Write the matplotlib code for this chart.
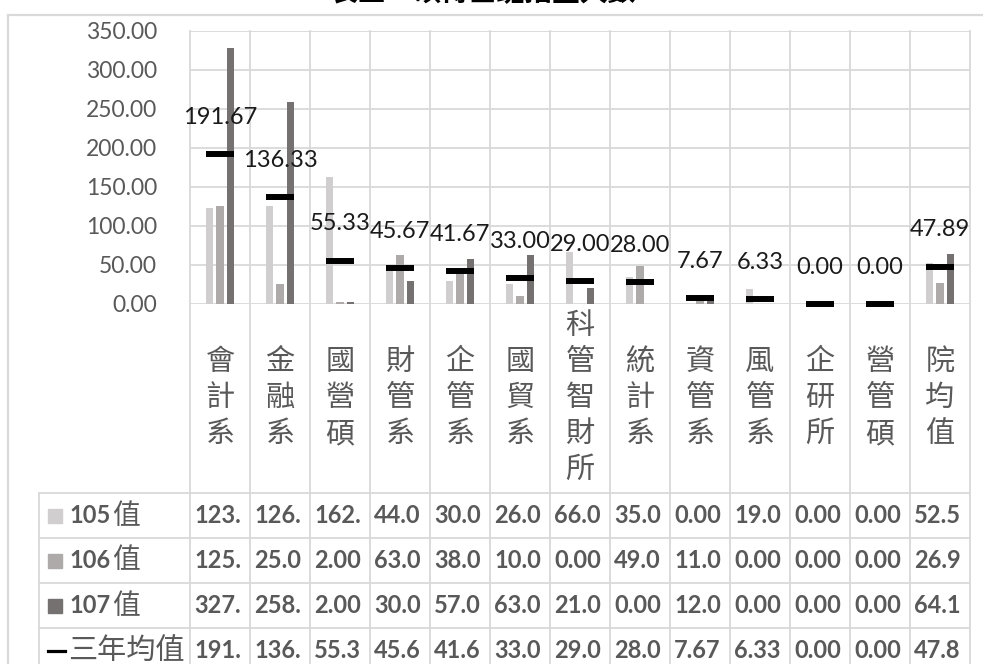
import numpy as np
import matplotlib.pyplot as plt
from matplotlib.lines import Line2D
from matplotlib.patches import Rectangle
from matplotlib.transforms import blended_transform_factory, offset_copy

plt.rcParams['font.family'] = ['Lato', 'Noto Sans CJK TC', 'DejaVu Sans']

# data
depts = ['會計系', '金融系', '國營碩', '財管系', '企管系', '國貿系', '科管智財所',
         '統計系', '資管系', '風管系', '企研所', '營管碩', '院均值']
v105 = [123, 126, 162, 44, 30, 26, 66, 35, 0, 19, 0, 0, 52.58]
v106 = [125, 25, 2, 63, 38, 10, 0, 49, 11, 0, 0, 0, 26.92]
v107 = [327, 258, 2, 30, 57, 63, 21, 0, 12, 0, 0, 0, 64.17]
avg3 = [191.67, 136.33, 55.33, 45.67, 41.67, 33.00, 29.00, 28.00, 7.67, 6.33, 0.00, 0.00, 47.89]
series_names = ['105值', '106值', '107值', '三年均值']
series_colors = ['#D0CECE', '#AEAAAA', '#767171', 'black']
yticks = [0, 50, 100, 150, 200, 250, 300, 350]
title = '表三　碩博士班招生人數'

W, H = 983, 664
def fx(px):
    return px / W
def fy(px):
    return 1 - px / H

grid_c = '#D9D9D9'
text_c = '#595959'

fig = plt.figure(figsize=(W / 100, H / 100), dpi=100)
ax = fig.add_axes([fx(190), fy(304), fx(970) - fx(190), fy(30.5) - fy(304)])

x = np.arange(len(depts))
bw = 0.117
ax.bar(x - 0.175, v105, bw, color=series_colors[0], zorder=2)
ax.bar(x, v106, bw, color=series_colors[1], zorder=2)
ax.bar(x + 0.175, v107, bw, color=series_colors[2], zorder=2)
ax.plot(x, avg3, ls='none', marker='_', ms=19.5, mew=4.3, color='black',
        clip_on=False, zorder=5)

for xi, v in zip(x, avg3):
    ax.annotate(f'{v:.2f}', (xi, v), xytext=(0, 26.5), textcoords='offset points',
                ha='center', va='center', fontsize=17, color='#1a1a1a', zorder=6)

ax.set_xlim(-0.5, len(depts) - 0.5)
ax.set_ylim(0, 350)
ax.set_yticks(yticks)
ax.set_yticklabels([f'{t:.2f}' for t in yticks])
ax.tick_params(axis='y', length=0, pad=23.8, labelsize=16.5, labelcolor=text_c)
ax.set_xticks([])
ax.yaxis.grid(True, color=grid_c, lw=1.3)
ax.set_axisbelow(True)
for s in ax.spines.values():
    s.set_visible(False)

# vertical category lines through plot, label area and table
for b in np.arange(-0.5, len(depts), 1):
    ax.axvline(b, ymin=-1.4, ymax=1, color=grid_c, lw=1.3, clip_on=False, zorder=1)

trans = blended_transform_factory(ax.transData, fig.transFigure)

# category labels, one character per line
for i, name in enumerate(depts):
    n = len(name)
    for k, ch in enumerate(name):
        ypx = 398 + (k - (n - 1) / 2) * 36
        ax.text(i, fy(ypx), ch, transform=trans, ha='center', va='center',
                fontsize=21, color=text_c, family='Noto Sans CJK TC', fontweight='light')

# data table
row_top = 493
row_h = 45
for r in range(5):
    yl = row_top + r * row_h
    fig.add_artist(Line2D([fx(39), fx(970)], [fy(yl), fy(yl)], color=grid_c, lw=1.3))
fig.add_artist(Line2D([fx(39), fx(39)], [fy(row_top), fy(H + 5)], color=grid_c, lw=1.3))

cell_trans = offset_copy(trans, fig=fig, x=4, y=0, units='dots')
for r, vals in enumerate([v105, v106, v107, avg3]):
    yc = row_top + row_h * r + row_h / 2
    for i, v in enumerate(vals):
        ax.text(i - 0.5, fy(yc), f'{v:.2f}'[:4], transform=cell_trans, ha='left',
                va='center', fontsize=17, fontweight='bold', color=text_c)
    if r < 3:
        fig.add_artist(Rectangle((fx(48), fy(yc + 7)), fx(62) - fx(48), fy(yc - 7) - fy(yc + 7),
                                 transform=fig.transFigure, color=series_colors[r]))
        fig.text(fx(69), fy(yc), series_names[r][:3], ha='left', va='center',
                 fontsize=17, fontweight='bold', color=text_c)
        fig.text(fx(112), fy(yc), series_names[r][3:], ha='left', va='center',
                 fontsize=20, color=text_c, family='Noto Sans CJK TC')
    else:
        fig.add_artist(Line2D([fx(48), fx(65)], [fy(yc), fy(yc)], color='black', lw=2.3))
        fig.text(fx(68), fy(yc), series_names[r], ha='left', va='center',
                 fontsize=21, color=text_c, family='Noto Sans CJK TC', fontweight='light')

# chart frame (runs off the right and bottom)
fig.add_artist(Line2D([fx(8), fx(W + 5)], [fy(15), fy(15)], color=grid_c, lw=1.6))
fig.add_artist(Line2D([fx(8), fx(8)], [fy(15), fy(H + 5)], color=grid_c, lw=1.6))

# title, mostly cut off at the top edge as in the source
fig.text(fx(483), fy(1), title, ha='center', va='baseline', fontsize=20,
         fontweight='bold', color='black', family='Noto Sans CJK TC')

fig.savefig('out.png', dpi=100)
